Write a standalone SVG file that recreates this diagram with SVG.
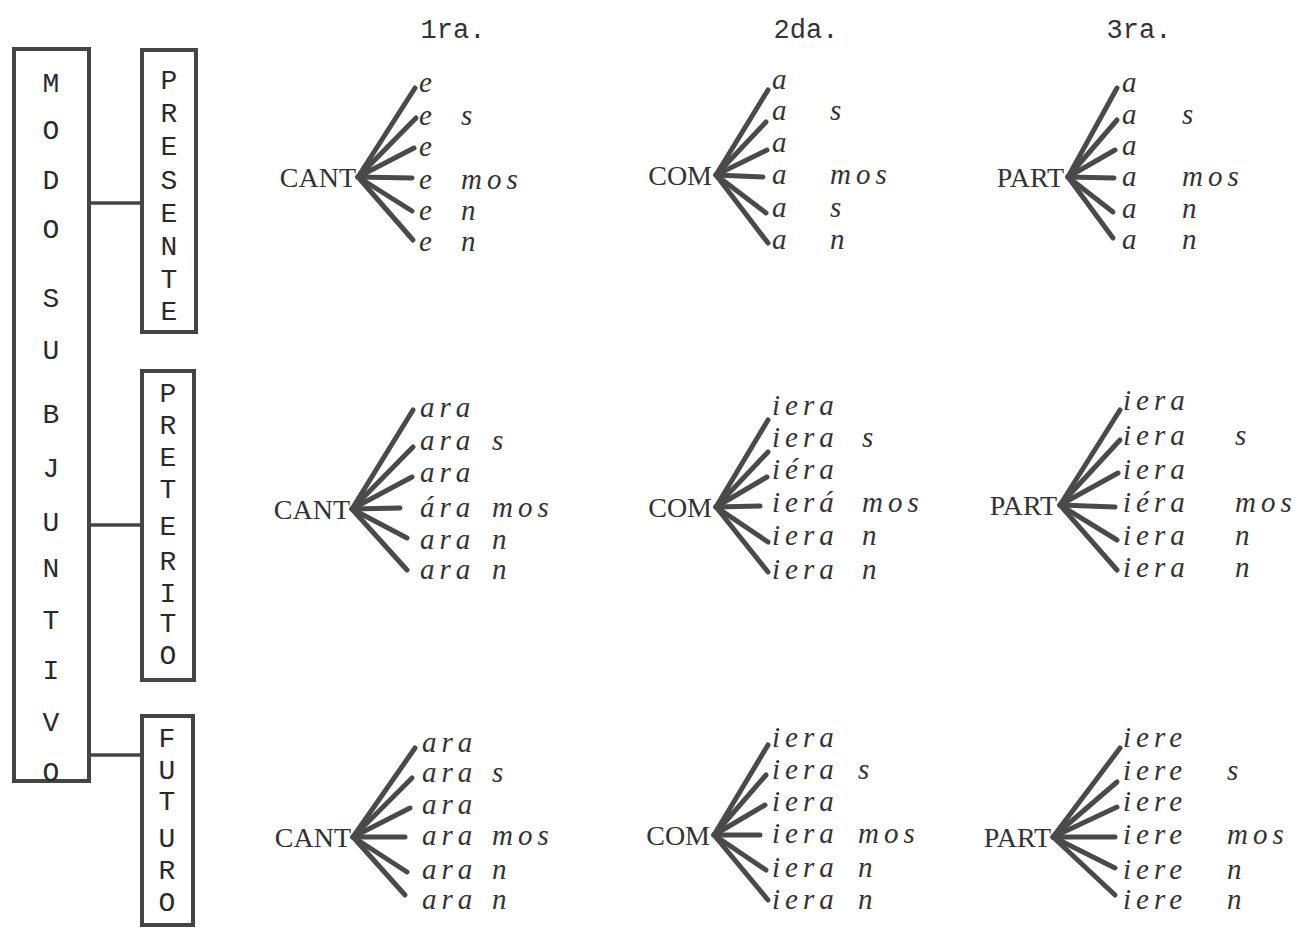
<svg xmlns="http://www.w3.org/2000/svg" width="1297" height="937" viewBox="0 0 1297 937">
<style>
.bg{fill:#fff}
.box{fill:none;stroke:#444;stroke-width:4}
.conn{stroke:#444;stroke-width:3.5;fill:none}
.tw{font-family:"Liberation Mono",monospace;font-size:28px;fill:#2a2a2a;text-anchor:middle}
.hd{font-family:"Liberation Mono",monospace;font-size:27px;fill:#333;text-anchor:middle}
.stem{font-family:"Liberation Serif",serif;font-size:28px;fill:#333;text-anchor:end}
.suf{font-family:"Liberation Serif",serif;font-style:italic;font-size:29px;letter-spacing:5px;fill:#333}
.fan line{stroke:#4a4a4a;stroke-width:5;stroke-linecap:round}
</style>
<rect class="bg" x="0" y="0" width="1297" height="937"/>

<g id="headers">
<text class="hd" x="453" y="38">1ra.</text>
<text class="hd" x="806" y="38">2da.</text>
<text class="hd" x="1139" y="38">3ra.</text>
</g>

<g id="modo">
<rect class="box" x="14" y="49" width="75" height="732"/>
<text class="tw" x="51" y="92">M</text>
<text class="tw" x="51" y="139">O</text>
<text class="tw" x="51" y="189">D</text>
<text class="tw" x="51" y="238">O</text>
<text class="tw" x="51" y="307">S</text>
<text class="tw" x="51" y="359">U</text>
<text class="tw" x="51" y="423">B</text>
<text class="tw" x="51" y="477">J</text>
<text class="tw" x="51" y="531">U</text>
<text class="tw" x="51" y="577">N</text>
<text class="tw" x="51" y="629">T</text>
<text class="tw" x="51" y="679">I</text>
<text class="tw" x="51" y="731">V</text>
<text class="tw" x="51" y="781">O</text>
</g>

<g id="presente">
<rect class="box" x="142" y="50" width="54" height="282"/>
<text class="tw" x="169" y="89">P</text>
<text class="tw" x="169" y="122">R</text>
<text class="tw" x="169" y="155">E</text>
<text class="tw" x="169" y="189">S</text>
<text class="tw" x="169" y="222">E</text>
<text class="tw" x="169" y="255">N</text>
<text class="tw" x="169" y="288">T</text>
<text class="tw" x="169" y="320">E</text>
</g>

<g id="preterito">
<rect class="box" x="142" y="371" width="52" height="309"/>
<text class="tw" x="168" y="402">P</text>
<text class="tw" x="168" y="434">R</text>
<text class="tw" x="168" y="466">E</text>
<text class="tw" x="168" y="498">T</text>
<text class="tw" x="168" y="535">E</text>
<text class="tw" x="168" y="570">R</text>
<text class="tw" x="168" y="602">I</text>
<text class="tw" x="168" y="632">T</text>
<text class="tw" x="168" y="664">O</text>
</g>

<g id="futuro">
<rect class="box" x="142" y="716" width="51" height="209"/>
<text class="tw" x="167" y="747">F</text>
<text class="tw" x="167" y="779">U</text>
<text class="tw" x="167" y="810">T</text>
<text class="tw" x="167" y="847">U</text>
<text class="tw" x="167" y="879">R</text>
<text class="tw" x="167" y="911">O</text>
</g>

<g id="connectors">
<line class="conn" x1="91" y1="203" x2="142" y2="203"/>
<line class="conn" x1="90" y1="525" x2="142" y2="525"/>
<line class="conn" x1="89" y1="755" x2="142" y2="755"/>
</g>

<g id="pres-1" class="fan">
<text class="stem" x="356" y="187">CANT</text>
<line x1="358" y1="177" x2="415" y2="88"/>
<line x1="358" y1="177" x2="416" y2="118"/>
<line x1="358" y1="177" x2="414" y2="148"/>
<line x1="358" y1="177" x2="412" y2="178"/>
<line x1="358" y1="177" x2="412" y2="211"/>
<line x1="358" y1="177" x2="413" y2="240"/>
<text class="suf" x="419" y="92">e</text>
<text class="suf" x="419" y="125">e</text>
<text class="suf" x="419" y="156">e</text>
<text class="suf" x="419" y="189">e</text>
<text class="suf" x="419" y="220">e</text>
<text class="suf" x="419" y="251">e</text>
<text class="suf" x="461" y="125">s</text>
<text class="suf" x="461" y="189">mos</text>
<text class="suf" x="461" y="220">n</text>
<text class="suf" x="461" y="251">n</text>
</g>

<g id="pres-2" class="fan">
<text class="stem" x="712" y="185">COM</text>
<line x1="716" y1="175" x2="768" y2="90"/>
<line x1="716" y1="175" x2="766" y2="122"/>
<line x1="716" y1="175" x2="767" y2="150"/>
<line x1="716" y1="175" x2="763" y2="177"/>
<line x1="716" y1="175" x2="766" y2="213"/>
<line x1="716" y1="175" x2="768" y2="243"/>
<text class="suf" x="772" y="89">a</text>
<text class="suf" x="772" y="120">a</text>
<text class="suf" x="772" y="152">a</text>
<text class="suf" x="772" y="184">a</text>
<text class="suf" x="772" y="217">a</text>
<text class="suf" x="772" y="249">a</text>
<text class="suf" x="830" y="120">s</text>
<text class="suf" x="830" y="184">mos</text>
<text class="suf" x="830" y="217">s</text>
<text class="suf" x="830" y="249">n</text>
</g>

<g id="pres-3" class="fan">
<text class="stem" x="1064" y="187">PART</text>
<line x1="1068" y1="177" x2="1117" y2="88"/>
<line x1="1068" y1="177" x2="1117" y2="120"/>
<line x1="1068" y1="177" x2="1115" y2="150"/>
<line x1="1068" y1="177" x2="1114" y2="178"/>
<line x1="1068" y1="177" x2="1113" y2="212"/>
<line x1="1068" y1="177" x2="1113" y2="238"/>
<text class="suf" x="1122" y="92">a</text>
<text class="suf" x="1122" y="124">a</text>
<text class="suf" x="1122" y="155">a</text>
<text class="suf" x="1122" y="186">a</text>
<text class="suf" x="1122" y="218">a</text>
<text class="suf" x="1122" y="249">a</text>
<text class="suf" x="1182" y="124">s</text>
<text class="suf" x="1182" y="186">mos</text>
<text class="suf" x="1182" y="218">n</text>
<text class="suf" x="1182" y="249">n</text>
</g>

<g id="pret-1" class="fan">
<text class="stem" x="350" y="519">CANT</text>
<line x1="352" y1="509" x2="413" y2="410"/>
<line x1="352" y1="509" x2="413" y2="447"/>
<line x1="352" y1="509" x2="412" y2="477"/>
<line x1="352" y1="509" x2="400" y2="508"/>
<line x1="352" y1="509" x2="407" y2="538"/>
<line x1="352" y1="509" x2="407" y2="570"/>
<text class="suf" x="420" y="417">ara</text>
<text class="suf" x="420" y="450">ara</text>
<text class="suf" x="420" y="482">ara</text>
<text class="suf" x="420" y="517">ára</text>
<text class="suf" x="420" y="549">ara</text>
<text class="suf" x="420" y="579">ara</text>
<text class="suf" x="492" y="450">s</text>
<text class="suf" x="492" y="517">mos</text>
<text class="suf" x="492" y="549">n</text>
<text class="suf" x="492" y="579">n</text>
</g>

<g id="pret-2" class="fan">
<text class="stem" x="712" y="517">COM</text>
<line x1="716" y1="507" x2="768" y2="420"/>
<line x1="716" y1="507" x2="768" y2="452"/>
<line x1="716" y1="507" x2="767" y2="477"/>
<line x1="716" y1="507" x2="760" y2="506"/>
<line x1="716" y1="507" x2="768" y2="542"/>
<line x1="716" y1="507" x2="768" y2="572"/>
<text class="suf" x="772" y="415">iera</text>
<text class="suf" x="772" y="447">iera</text>
<text class="suf" x="772" y="479">iéra</text>
<text class="suf" x="772" y="512">ierá</text>
<text class="suf" x="772" y="545">iera</text>
<text class="suf" x="772" y="579">iera</text>
<text class="suf" x="862" y="447">s</text>
<text class="suf" x="862" y="512">mos</text>
<text class="suf" x="862" y="545">n</text>
<text class="suf" x="862" y="579">n</text>
</g>

<g id="pret-3" class="fan">
<text class="stem" x="1057" y="515">PART</text>
<line x1="1060" y1="505" x2="1120" y2="410"/>
<line x1="1060" y1="505" x2="1120" y2="440"/>
<line x1="1060" y1="505" x2="1118" y2="473"/>
<line x1="1060" y1="505" x2="1115" y2="507"/>
<line x1="1060" y1="505" x2="1117" y2="540"/>
<line x1="1060" y1="505" x2="1117" y2="570"/>
<text class="suf" x="1123" y="410">iera</text>
<text class="suf" x="1123" y="445">iera</text>
<text class="suf" x="1123" y="479">iera</text>
<text class="suf" x="1123" y="512">iéra</text>
<text class="suf" x="1123" y="545">iera</text>
<text class="suf" x="1123" y="577">iera</text>
<text class="suf" x="1235" y="445">s</text>
<text class="suf" x="1235" y="512">mos</text>
<text class="suf" x="1235" y="545">n</text>
<text class="suf" x="1235" y="577">n</text>
</g>

<g id="fut-1" class="fan">
<text class="stem" x="351" y="847">CANT</text>
<line x1="353" y1="837" x2="415" y2="748"/>
<line x1="353" y1="837" x2="412" y2="778"/>
<line x1="353" y1="837" x2="410" y2="808"/>
<line x1="353" y1="837" x2="405" y2="837"/>
<line x1="353" y1="837" x2="407" y2="872"/>
<line x1="353" y1="837" x2="405" y2="895"/>
<text class="suf" x="422" y="752">ara</text>
<text class="suf" x="422" y="782">ara</text>
<text class="suf" x="422" y="814">ara</text>
<text class="suf" x="422" y="845">ara</text>
<text class="suf" x="422" y="879">ara</text>
<text class="suf" x="422" y="909">ara</text>
<text class="suf" x="492" y="782">s</text>
<text class="suf" x="492" y="845">mos</text>
<text class="suf" x="492" y="879">n</text>
<text class="suf" x="492" y="909">n</text>
</g>

<g id="fut-2" class="fan">
<text class="stem" x="710" y="845">COM</text>
<line x1="714" y1="835" x2="768" y2="745"/>
<line x1="714" y1="835" x2="766" y2="775"/>
<line x1="714" y1="835" x2="765" y2="805"/>
<line x1="714" y1="835" x2="760" y2="835"/>
<line x1="714" y1="835" x2="766" y2="870"/>
<line x1="714" y1="835" x2="768" y2="900"/>
<text class="suf" x="772" y="747">iera</text>
<text class="suf" x="772" y="779">iera</text>
<text class="suf" x="772" y="811">iera</text>
<text class="suf" x="772" y="843">iera</text>
<text class="suf" x="772" y="877">iera</text>
<text class="suf" x="772" y="909">iera</text>
<text class="suf" x="858" y="779">s</text>
<text class="suf" x="858" y="843">mos</text>
<text class="suf" x="858" y="877">n</text>
<text class="suf" x="858" y="909">n</text>
</g>

<g id="fut-3" class="fan">
<text class="stem" x="1051" y="847">PART</text>
<line x1="1053" y1="837" x2="1120" y2="748"/>
<line x1="1053" y1="837" x2="1117" y2="782"/>
<line x1="1053" y1="837" x2="1117" y2="807"/>
<line x1="1053" y1="837" x2="1115" y2="837"/>
<line x1="1053" y1="837" x2="1115" y2="868"/>
<line x1="1053" y1="837" x2="1115" y2="895"/>
<text class="suf" x="1123" y="747">iere</text>
<text class="suf" x="1123" y="780">iere</text>
<text class="suf" x="1123" y="811">iere</text>
<text class="suf" x="1123" y="844">iere</text>
<text class="suf" x="1123" y="879">iere</text>
<text class="suf" x="1123" y="909">iere</text>
<text class="suf" x="1227" y="780">s</text>
<text class="suf" x="1227" y="844">mos</text>
<text class="suf" x="1227" y="879">n</text>
<text class="suf" x="1227" y="909">n</text>
</g>
</svg>
